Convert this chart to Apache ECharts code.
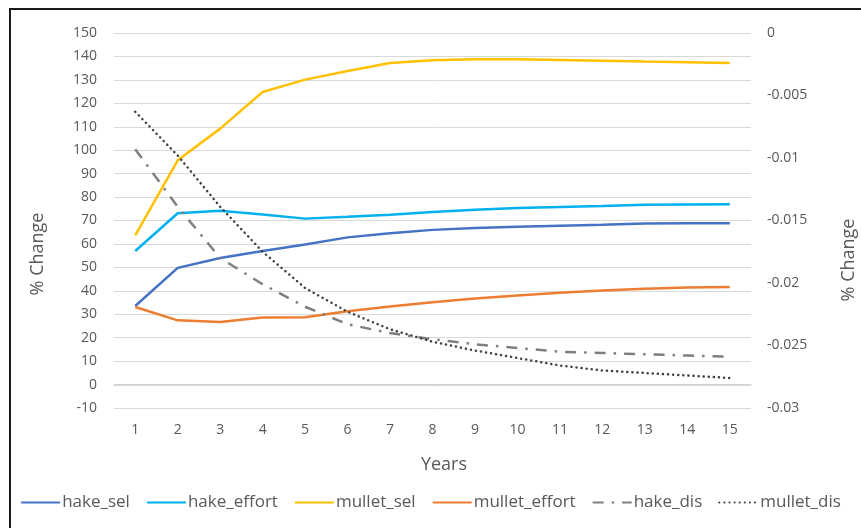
<!DOCTYPE html>
<html>
<head>
<meta charset="utf-8">
<script src="https://cdn.jsdelivr.net/npm/echarts@6/dist/echarts.min.js"></script>
<style>
html,body{margin:0;padding:0;background:#fff;}
#chart{width:861px;height:528px;}
</style>
</head>
<body>
<div id="chart"></div>
<script>
const years = ['1','2','3','4','5','6','7','8','9','10','11','12','13','14','15'];
const hake_sel = [33.5, 49.8, 54.0, 57.0, 59.8, 62.8, 64.6, 66.0, 66.8, 67.3, 67.8, 68.2, 68.7, 68.8, 68.8];
const hake_effort = [57.0, 73.1, 74.2, 72.6, 70.8, 71.6, 72.5, 73.6, 74.6, 75.3, 75.8, 76.2, 76.7, 76.8, 76.9];
const mullet_sel = [63.7, 95.7, 109.2, 124.8, 130.1, 133.8, 137.2, 138.4, 138.8, 138.8, 138.5, 138.2, 137.8, 137.5, 137.2];
const mullet_effort = [33.1, 27.4, 26.7, 28.6, 28.7, 31.3, 33.3, 35.1, 36.7, 38.0, 39.2, 40.1, 40.9, 41.4, 41.6];
const hake_dis = [-0.0093, -0.0139, -0.0180, -0.0201, -0.0219, -0.0233, -0.0240, -0.0245, -0.0249, -0.0252, -0.0255, -0.0256, -0.0257, -0.0258, -0.0259];
const mullet_dis = [-0.0063, -0.0098, -0.0139, -0.0175, -0.0204, -0.0223, -0.0237, -0.0247, -0.0254, -0.0260, -0.0266, -0.0270, -0.0272, -0.0274, -0.0276];
const leftTicks = {min: -10, max: 150, interval: 10};
const rightTicks = {min: -0.03, max: 0, interval: 0.005};
const axisTitle = '% Change';
const xTitle = 'Years';

const FONT = '"Open Sans", "Noto Sans", sans-serif';
const chart = echarts.init(document.getElementById('chart'), null, {renderer: 'canvas'});

function line(name, data, color, yIdx, type, cap) {
  return {
    name: name, type: 'line', data: data, yAxisIndex: yIdx,
    symbol: 'none', showSymbol: false, smooth: false,
    lineStyle: {color: color, width: 2.5, type: type || 'solid', cap: cap || 'butt'},
    itemStyle: {color: color},
    emphasis: {disabled: true}
  };
}

chart.setOption({
  animation: false,
  backgroundColor: '#fff',
  grid: {left: 114, right: 110, top: 33, bottom: 120, containLabel: false},
  xAxis: {
    type: 'category', data: years, boundaryGap: true,
    axisLine: {show: true, onZero: true, onZeroAxisIndex: 0, lineStyle: {color: '#D0D0D0', width: 1.5}},
    axisTick: {show: false},
    axisLabel: {color: '#595959', fontFamily: FONT, fontSize: 14, margin: 15},
    splitLine: {show: false}
  },
  yAxis: [
    {
      type: 'value', min: leftTicks.min, max: leftTicks.max, interval: leftTicks.interval,
      axisLine: {show: false}, axisTick: {show: false},
      axisLabel: {color: '#595959', fontFamily: FONT, fontSize: 14, margin: 17},
      splitLine: {show: true, lineStyle: {color: '#D9D9D9', width: 1}}
    },
    {
      type: 'value', min: rightTicks.min, max: rightTicks.max, interval: rightTicks.interval,
      position: 'right',
      axisLine: {show: false}, axisTick: {show: false},
      axisLabel: {color: '#595959', fontFamily: FONT, fontSize: 14, margin: 16,
        formatter: v => String(+(+v).toFixed(3))},
      splitLine: {show: false}
    }
  ],
  legend: {
    bottom: 12, left: 'center',
    itemWidth: 39, itemHeight: 12, itemGap: 16,
    itemStyle: {opacity: 0},
    textStyle: {color: '#595959', fontFamily: FONT, fontSize: 17, padding: [0,0,0,-3]},
    data: ['hake_sel','hake_effort','mullet_sel','mullet_effort','hake_dis','mullet_dis']
  },
  graphic: [
    {type: 'rect', silent: true, shape: {x: 10, y: 9, width: 1000, height: 1000},
     style: {fill: 'none', stroke: '#1a1a1a', lineWidth: 2}},
    {type: 'text', silent: true, x: 38, y: 254, rotation: Math.PI/2,
     style: {text: axisTitle, fill: '#595959', font: '18px ' + FONT, align: 'center', verticalAlign: 'middle'}},
    {type: 'text', silent: true, x: 849, y: 260, rotation: Math.PI/2,
     style: {text: axisTitle, fill: '#595959', font: '18px ' + FONT, align: 'center', verticalAlign: 'middle'}},
    {type: 'text', silent: true, x: 444, y: 465,
     style: {text: xTitle, fill: '#595959', font: '18px ' + FONT, align: 'center', verticalAlign: 'middle'}}
  ],
  series: [
    line('hake_sel', hake_sel, '#4472C4', 0),
    line('hake_effort', hake_effort, '#00B0F0', 0),
    line('mullet_sel', mullet_sel, '#FFC000', 0),
    line('mullet_effort', mullet_effort, '#ED7D31', 0),
    line('hake_dis', hake_dis, '#7F7F7F', 1, [11, 8, 2.5, 8]),
    line('mullet_dis', mullet_dis, '#404040', 1, [0.1, 5], 'round')
  ]
});
</script>
</body>
</html>
